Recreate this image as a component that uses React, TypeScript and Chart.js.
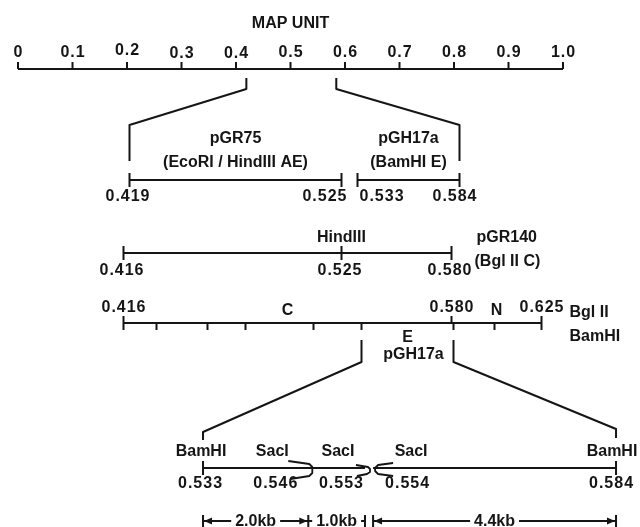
import React, { useEffect, useRef } from 'react';
import { Chart, registerables } from 'chart.js';

Chart.register(...registerables);

// ---------------- data ----------------
const MAP_TICKS = [0, 0.1, 0.2, 0.3, 0.4, 0.5, 0.6, 0.7, 0.8, 0.9, 1.0];
const MAP_TICK_LABELS = ['0', '0.1', '0.2', '0.3', '0.4', '0.5', '0.6', '0.7', '0.8', '0.9', '1.0'];
const ZOOM_RANGE = [0.419, 0.584];
const PGR75 = [0.419, 0.525];
const PGH17A = [0.533, 0.584];
const PGR140 = [0.416, 0.525, 0.58];
const BGLII_SITES = [0.416, 0.58, 0.625];
const BGLII_FRAGMENT_LABELS = ['C', 'N'];
const BAMHI_SITES = [0.416, 0.4325, 0.458, 0.477, 0.511, 0.535, 0.581, 0.6015, 0.625];
const BAMHI_E = [0.535, 0.581];
const INSERT_BAMHI = [0.533, 0.584];
const INSERT_SACI = [0.546, 0.553, 0.554];
const KB_START = [0.533, 0.546, 0.554];
const KB_END = [0.546, 0.553, 0.584];
const KB_LABELS = ['2.0kb', '1.0kb', '4.4kb'];

// ---------------- layout (pixels) ----------------
const Y = {
  title: 24, mapLabels: 53, mapTickTop: 62, mapAxis: 69,
  stubTop: 78, stubBot: 89, brTop: 125, brBot: 161,
  r2Title: 139, r2Sub: 163, r2: 180, r2Num: 197,
  r3Label: 238, r3: 253, r3Num: 271,
  r4Above: 308, r4: 323, r4Below: 337, r4Name: 355,
  stub2Top: 340, stub2Bot: 362, br2Top: 432, br2Bot: 440,
  r5Label: 452, r5: 468, r5Num: 484, kb: 521,
};
const MAP_LABEL_DY = [0, 0, -2, 1, 1, 0, 0, 0, 0, 0, 0];
const SACI_LABEL_DX = [-36, -27, 38];
const SACI_NUM_DX = [-33, -24, 34];
const FONT = 'bold 16px "Liberation Sans", Arial, Helvetica, sans-serif';
const INK = '#151515';

type P = { x: number; y: number | null };
const vticks = (xs: number[], y1: number, y2: number): P[] =>
  xs.flatMap((x) => [{ x, y: y1 }, { x, y: y2 }, { x, y: null }]);
const hline = (x1: number, x2: number, y: number): P[] => [{ x: x1, y }, { x: x2, y }, { x: x2, y: null }];
const mid = (a: number, b: number) => (a + b) / 2;

const ds = (label: string, xAxisID: string, data: P[], order = 0) => ({
  label, xAxisID, yAxisID: 'y', data, showLine: true, borderColor: INK, borderWidth: 2,
  pointRadius: 0, pointHoverRadius: 0, spanGaps: false, fill: false, tension: 0, order,
});

const diagramPlugin = {
  id: 'diagram',
  afterDatasetDraw(chart: any, args: any) {
    if (chart.data.datasets[args.index].label !== 'kbLines') return;
    const ctx = chart.ctx as CanvasRenderingContext2D;
    const B = (v: number) => chart.scales.xBot.getPixelForValue(v);
    const Yp = (v: number) => chart.scales.y.getPixelForValue(v);
    ctx.save();
    ctx.font = FONT;
    ctx.textAlign = 'center';
    ctx.textBaseline = 'middle';
    KB_LABELS.forEach((t, i) => {
      const cx = B(mid(KB_START[i], KB_END[i]));
      const w = ctx.measureText(t).width + 8;
      ctx.fillStyle = '#fff';
      ctx.fillRect(cx - w / 2, Yp(Y.kb) - 8, w, 16);
      ctx.fillStyle = INK;
      ctx.fillText(t, cx, Yp(Y.kb) + 1);
    });
    ctx.restore();
  },
  afterDatasetsDraw(chart: any) {
    const ctx = chart.ctx as CanvasRenderingContext2D;
    const s = chart.scales;
    const T = (v: number) => s.xTop.getPixelForValue(v);
    const M = (v: number) => s.xMid.getPixelForValue(v);
    const B = (v: number) => s.xBot.getPixelForValue(v);
    const Yp = (v: number) => s.y.getPixelForValue(v);
    ctx.save();
    ctx.strokeStyle = INK;
    ctx.fillStyle = INK;
    ctx.lineWidth = 2;
    ctx.lineJoin = 'round';
    const poly = (pts: [number, number][]) => {
      ctx.beginPath();
      pts.forEach(([x, y], i) => (i ? ctx.lineTo(x, y) : ctx.moveTo(x, y)));
      ctx.stroke();
    };
    // connectors top axis -> row 2
    poly([[T(ZOOM_RANGE[0]), Yp(Y.stubTop)], [T(ZOOM_RANGE[0]), Yp(Y.stubBot)], [M(PGR75[0]), Yp(Y.brTop)], [M(PGR75[0]), Yp(Y.brBot)]]);
    poly([[T(ZOOM_RANGE[1]), Yp(Y.stubTop)], [T(ZOOM_RANGE[1]), Yp(Y.stubBot)], [M(PGH17A[1]), Yp(Y.brTop)], [M(PGH17A[1]), Yp(Y.brBot)]]);
    // connectors BamHI E -> insert map
    poly([[M(BAMHI_E[0]), Yp(Y.stub2Top)], [M(BAMHI_E[0]), Yp(Y.stub2Bot)], [B(INSERT_BAMHI[0]), Yp(Y.br2Top)], [B(INSERT_BAMHI[0]), Yp(Y.br2Bot)]]);
    poly([[M(BAMHI_E[1]), Yp(Y.stub2Top)], [M(BAMHI_E[1]), Yp(Y.stub2Bot)], [B(INSERT_BAMHI[1]), Yp(Y.br2Top) - 3], [B(INSERT_BAMHI[1]), Yp(Y.br2Bot) - 2]]);

    // chevrons on insert line
    const y5 = Yp(Y.r5);
    ctx.lineWidth = 1.8;
    const p0 = B(INSERT_SACI[0]);
    poly([[p0 - 20, y5 - 7], [p0 + 1, y5 - 4], [p0 + 4, y5 - 1], [p0 + 4, y5 + 5], [p0 + 1, y5 + 8], [p0 - 18, y5 + 11]]);
    const p1 = B(INSERT_SACI[1]);
    poly([[p1 - 9, y5 - 3], [p1 + 3, y5 - 1], [p1 + 5, y5 + 1], [p1 + 5, y5 + 4], [p1 + 2, y5 + 6], [p1 - 8, y5 + 8]]);
    const p2 = B(INSERT_SACI[2]);
    poly([[p2 + 20, y5 - 5], [p2 + 5, y5 - 3], [p2 + 2, y5], [p2 + 2, y5 + 3], [p2 + 5, y5 + 6], [p2 + 20, y5 + 8]]);

    // kb arrowheads
    const yk = Yp(Y.kb);
    const head = (x: number, dir: number) => {
      ctx.beginPath();
      ctx.moveTo(x, yk);
      ctx.lineTo(x + dir * 8, yk - 3.5);
      ctx.lineTo(x + dir * 8, yk + 3.5);
      ctx.closePath();
      ctx.fill();
    };
    head(B(KB_START[0]) + 1, 1);
    head(B(KB_END[0]) - 1, -1);
    head(B(KB_START[2]) + 1, 1);
    head(B(KB_END[2]) - 1, -1);

    // texts
    ctx.font = FONT;
    ctx.textBaseline = 'middle';
    const text = (t: string, x: number, y: number, align: CanvasTextAlign = 'center', numeric = false) => {
      ctx.textAlign = align;
      (ctx as any).letterSpacing = numeric ? '1px' : '0px';
      ctx.fillText(t, x + (numeric && align === 'center' ? 0.5 : 0), Yp(y));
    };
    const num = (v: number, x: number, y: number, align: CanvasTextAlign = 'center') =>
      text(v.toFixed(3), x, y, align, true);
    text('MAP UNIT', T(0.5), Y.title);
    MAP_TICKS.forEach((t, i) => text(MAP_TICK_LABELS[i], T(t), Y.mapLabels + MAP_LABEL_DY[i], 'center', true));

    text('pGR75', M(mid(PGR75[0], PGR75[1])), Y.r2Title);
    text('(EcoRI / HindIII AE)', M(mid(PGR75[0], PGR75[1])), Y.r2Sub);
    text('pGH17a', M(mid(PGH17A[0], PGH17A[1])), Y.r2Title);
    text('(BamHI E)', M(mid(PGH17A[0], PGH17A[1])), Y.r2Sub);
    num(PGR75[0], M(PGR75[0]) - 2, Y.r2Num);
    num(PGR75[1], M(PGR75[1]) + 6, Y.r2Num, 'right');
    num(PGH17A[0], M(PGH17A[0]) + 2, Y.r2Num, 'left');
    num(PGH17A[1], M(PGH17A[1]) - 5, Y.r2Num);

    text('HindIII', M(PGR140[1]), Y.r3Label);
    PGR140.forEach((v) => num(v, M(v) - 2, Y.r3Num));
    text('pGR140', M(PGR140[2]) + 25, Y.r3Label, 'left');
    text('(Bgl II C)', M(PGR140[2]) + 23, Y.r3Label + 24, 'left');

    BGLII_SITES.forEach((v) => num(v, M(v), Y.r4Above));
    BGLII_FRAGMENT_LABELS.forEach((t, i) => text(t, M(mid(BGLII_SITES[i], BGLII_SITES[i + 1])), Y.r4Above + 3));
    text('Bgl II', M(BGLII_SITES[2]) + 28, Y.r4Above + 5, 'left');
    text('BamHI', M(BGLII_SITES[2]) + 28, Y.r4Below, 'left');
    text('E', M(mid(BAMHI_E[0], BAMHI_E[1])), Y.r4Below + 1);
    text('pGH17a', M(mid(BAMHI_E[0], BAMHI_E[1])) + 6, Y.r4Name);

    text('BamHI', B(INSERT_BAMHI[0]) - 2, Y.r5Label);
    text('BamHI', B(INSERT_BAMHI[1]) - 4, Y.r5Label);
    num(INSERT_BAMHI[0], B(INSERT_BAMHI[0]) - 3, Y.r5Num);
    num(INSERT_BAMHI[1], B(INSERT_BAMHI[1]) - 5, Y.r5Num);
    INSERT_SACI.forEach((v, i) => {
      text('SacI', B(v) + SACI_LABEL_DX[i], Y.r5Label);
      num(v, B(v) + SACI_NUM_DX[i], Y.r5Num);
    });
    ctx.restore();
  },
};

export default function App() {
  const ref = useRef<HTMLCanvasElement>(null);
  useEffect(() => {
    document.body.style.margin = '0';
    const canvas = ref.current!;
    const datasets = [
      ds('mapAxis', 'xTop', [...hline(0, 1, Y.mapAxis), ...vticks(MAP_TICKS, Y.mapTickTop, Y.mapAxis)]),
      ds('pGR75', 'xMid', [...hline(PGR75[0], PGR75[1], Y.r2), ...vticks(PGR75, Y.r2 - 7, Y.r2 + 7)]),
      ds('pGH17a', 'xMid', [...hline(PGH17A[0], PGH17A[1], Y.r2), ...vticks(PGH17A, Y.r2 - 7, Y.r2 + 7)]),
      ds('pGR140', 'xMid', [...hline(PGR140[0], PGR140[2], Y.r3), ...vticks(PGR140, Y.r3 - 7, Y.r3 + 7)]),
      ds('bglBam', 'xMid', [
        ...hline(BGLII_SITES[0], BGLII_SITES[2], Y.r4),
        ...vticks(BGLII_SITES, Y.r4 - 7, Y.r4),
        ...vticks(BAMHI_SITES, Y.r4, Y.r4 + 7),
      ]),
      ds('insert', 'xBot', [
        ...hline(INSERT_BAMHI[0], INSERT_SACI[1], Y.r5),
        ...hline(INSERT_SACI[2], INSERT_BAMHI[1], Y.r5),
        ...vticks(INSERT_BAMHI, Y.r5 - 7, Y.r5 + 7),
      ]),
      ds('kbLines', 'xBot', KB_START.flatMap((a, i) => hline(a, KB_END[i], Y.kb)), 5),
      ds('kbBars', 'xBot', vticks([...KB_START, KB_END[1], KB_END[2]], Y.kb - 6, Y.kb + 6)),
    ];
    const chart = new Chart(canvas, {
      type: 'scatter',
      data: { datasets: datasets as any },
      options: {
        responsive: false,
        animation: false,
        events: [],
        layout: { padding: 0 },
        plugins: { legend: { display: false }, tooltip: { enabled: false }, title: { display: false } },
        scales: {
          xTop: { type: 'linear', axis: 'x', display: false, min: -0.03303, max: 1.14128 },
          xMid: { type: 'linear', axis: 'x', display: false, min: 0.35425, max: 0.67425 },
          xBot: { type: 'linear', axis: 'x', display: false, min: 0.50793, max: 0.58696 },
          y: { type: 'linear', display: false, min: 0, max: 527, reverse: true },
        },
      } as any,
      plugins: [diagramPlugin as any],
    });
    return () => chart.destroy();
  }, []);
  return <canvas ref={ref} width={640} height={527} style={{ display: 'block', background: '#fff' }} />;
}
